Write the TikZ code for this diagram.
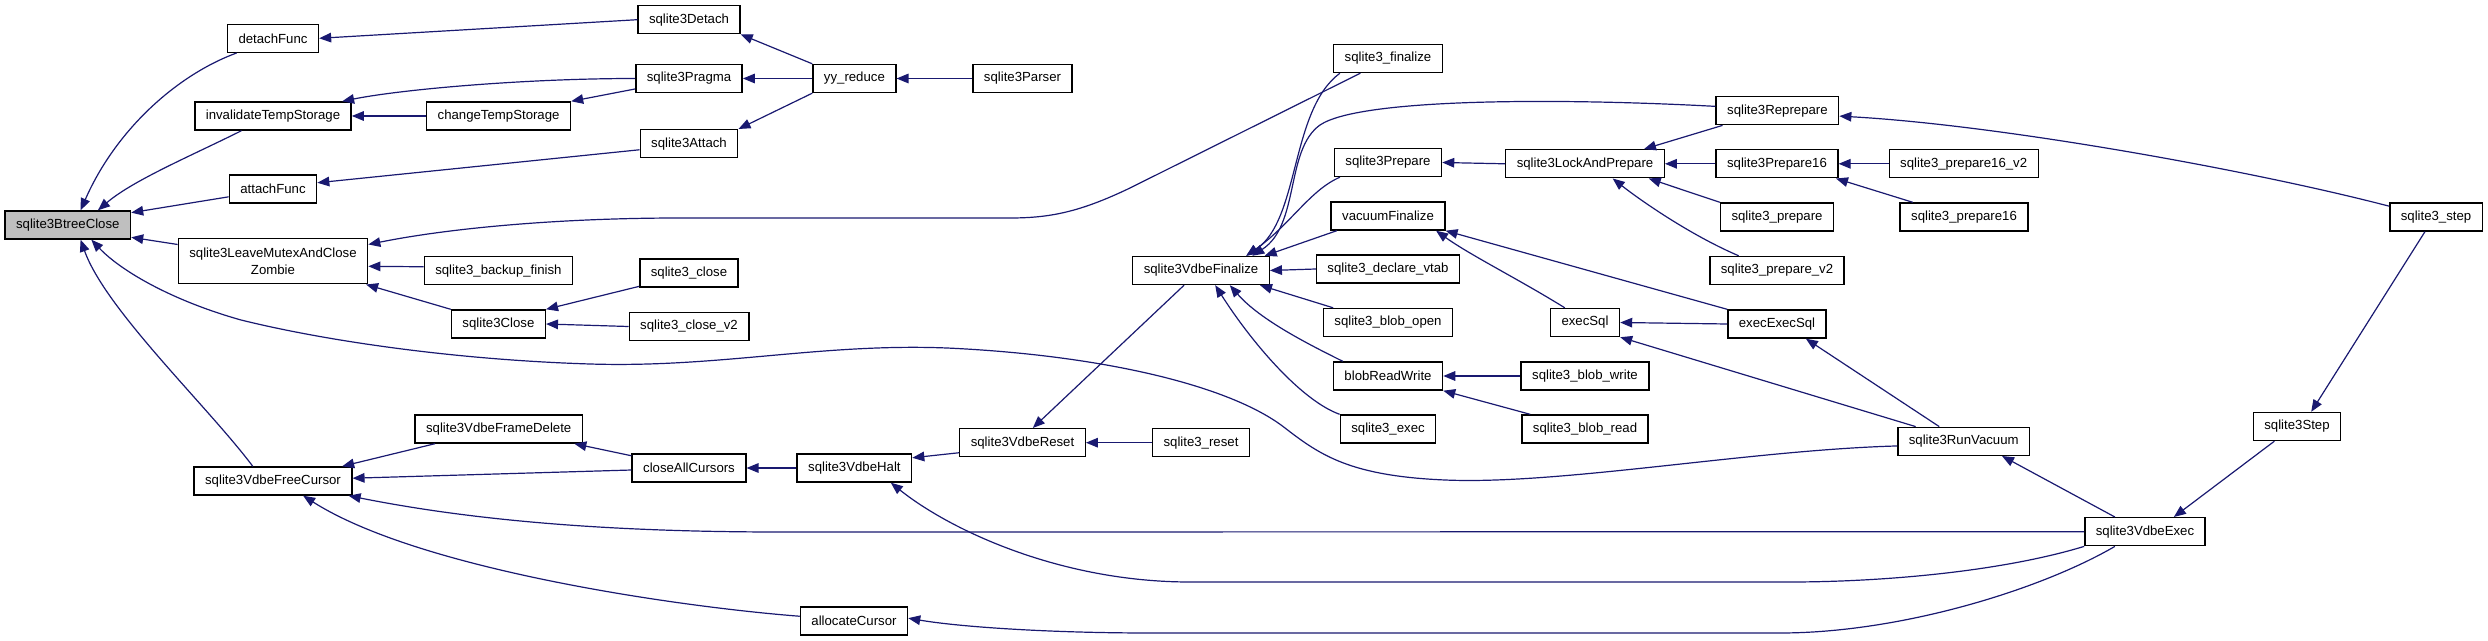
\documentclass[tikz,border=0pt]{standalone}
\usepackage{fontspec}
\setmainfont{Liberation Sans}
\usetikzlibrary{arrows.meta}
\definecolor{edgeblue}{HTML}{191970}

\begin{document}
\begin{tikzpicture}[x=0.5pt, y=-0.5pt, >={Triangle[length=6pt, width=4.8pt]}, font=\fontsize{6.6}{8.3}\selectfont,
		fn/.style={draw, rectangle, fill=white, line width=0.7pt, inner xsep=5.5pt, inner ysep=0pt, minimum height=14pt},
		rootfn/.style={fn, fill=black!25},
		call/.style={->, draw=edgeblue, line width=0.6pt}]
				\useasboundingbox (0,0) rectangle (2488,641);
				
				\node[rootfn] (btreeClose) at (67.8, 225) {sqlite3BtreeClose};
				
				\node[fn] (detachFunc) at (273, 38.3) {detachFunc};
				\node[fn] (invalidateTemp) at (273, 116) {invalidateTempStorage};
				\node[fn] (attachFunc) at (273, 189) {attachFunc};
				\node[fn, align=center, minimum height=22.5pt] (leaveMutex) at (273, 261.3) {sqlite3LeaveMutexAndClose\\Zombie};
				\node[fn] (freeCursor) at (273, 481) {sqlite3VdbeFreeCursor};
				
				\node[fn] (changeTemp) at (498.6, 116) {changeTempStorage};
				\node[fn] (backupFinish) at (498.4, 270.7) {sqlite3\_backup\_finish};
				\node[fn] (closeInt) at (498.4, 324) {sqlite3Close};
				\node[fn] (frameDelete) at (498.7, 429) {sqlite3VdbeFrameDelete};
				
				\node[fn] (detach) at (689, 19.7) {sqlite3Detach};
				\node[fn] (pragma) at (689, 78.5) {sqlite3Pragma};
				\node[fn] (attach) at (689, 143.7) {sqlite3Attach};
				\node[fn] (closeApi) at (689, 273) {sqlite3\_close};
				\node[fn] (closeV2) at (689, 326.5) {sqlite3\_close\_v2};
				\node[fn] (closeAll) at (689, 468) {closeAllCursors};
				
				\node[fn] (yyReduce) at (854.4, 78.5) {yy\_reduce};
				\node[fn] (vdbeHalt) at (854.4, 468) {sqlite3VdbeHalt};
				\node[fn] (allocCursor) at (854, 621) {allocateCursor};
				
				\node[fn] (parser) at (1022.5, 78.5) {sqlite3Parser};
				\node[fn] (vdbeReset) at (1022.5, 442.7) {sqlite3VdbeReset};
				
				\node[fn] (vdbeFinalize) at (1201, 270.5) {sqlite3VdbeFinalize};
				\node[fn] (resetApi) at (1201, 442.7) {sqlite3\_reset};
				
				\node[fn] (finalizeApi) at (1388, 58.5) {sqlite3\_finalize};
				\node[fn] (prepareInt) at (1388, 162.5) {sqlite3Prepare};
				\node[fn] (vacuumFinalize) at (1388, 216) {vacuumFinalize};
				\node[fn] (declareVtab) at (1388, 269) {sqlite3\_declare\_vtab};
				\node[fn] (blobOpen) at (1388, 322.5) {sqlite3\_blob\_open};
				\node[fn] (blobRW) at (1388, 376) {blobReadWrite};
				\node[fn] (execApi) at (1388, 429) {sqlite3\_exec};
				
				\node[fn] (lockPrepare) at (1585, 163.8) {sqlite3LockAndPrepare};
				\node[fn] (execSql) at (1585, 322.5) {execSql};
				\node[fn] (blobWrite) at (1585, 376) {sqlite3\_blob\_write};
				\node[fn] (blobRead) at (1585, 429) {sqlite3\_blob\_read};
				
				\node[fn] (reprepare) at (1777.4, 110.7) {sqlite3Reprepare};
				\node[fn] (prepare16) at (1777, 163.8) {sqlite3Prepare16};
				\node[fn] (prepareApi) at (1777, 217) {sqlite3\_prepare};
				\node[fn] (prepareV2) at (1777, 270.5) {sqlite3\_prepare\_v2};
				\node[fn] (execExecSql) at (1777, 324) {execExecSql};
				
				\node[fn] (prepare16v2) at (1963.7, 163.8) {sqlite3\_prepare16\_v2};
				\node[fn] (prepare16Api) at (1964, 217) {sqlite3\_prepare16};
				\node[fn] (runVacuum) at (1963.7, 441.3) {sqlite3RunVacuum};
				
				\node[fn] (vdbeExec) at (2145, 531.7) {sqlite3VdbeExec};
				\node[fn] (stepInt) at (2297, 426.5) {sqlite3Step};
				\node[fn] (stepApi) at (2436, 217) {sqlite3\_step};
				
				\draw[call] (detachFunc.202) .. controls +(-60,22) and +(35,-80) .. (btreeClose.49);
				\draw[call] (invalidateTemp.205) .. controls +(-50,25) and +(35,-30) .. (btreeClose.26);
				\draw[call] (attachFunc.190) -- (btreeClose.11);
				\draw[call] (leaveMutex.170) -- (btreeClose.-11);
				\draw[call] (freeCursor.144) .. controls +(-45,-60) and +(25,70) .. (btreeClose.-49);
				\draw[call] (runVacuum.184) .. controls (1750,450) and (1560,485) .. (1445,480) .. controls (1350,476) and (1320,455) .. (1285,428) .. controls (1230,385) and (1100,355) .. (947,348) .. controls (820,343) and (720,368) .. (590,364) .. controls (460,360) and (330,342) .. (241,320) .. controls (170,300) and (120,270) .. (btreeClose.-32);
				
				\draw[call] (detach.west) -- (detachFunc.east);
				\draw[call] (pragma.west) .. controls +(-110,0) and +(60,-12) .. (invalidateTemp.12);
				\draw[call] (changeTemp.west) -- (invalidateTemp.east);
				\draw[call] (attach.187) -- (attachFunc.8);
				\draw[call] (finalizeApi.208) -- (1130,188) .. controls (1080,212) and (1050,218) .. (1010,218) -- (680,218) .. controls (560,218) and (450,228) .. (leaveMutex.10);
				\draw[call] (backupFinish.177) -- (leaveMutex.-3);
				\draw[call] (closeInt.north west) -- (leaveMutex.-14);
				\draw[call] (frameDelete.193) -- (freeCursor.12);
				\draw[call] (closeAll.182) -- (freeCursor.2);
				\draw[call] (vdbeExec.west) -- (780,532) .. controls (620,532) and (480,522) .. (freeCursor.-11);
				\draw[call] (allocCursor.175) .. controls (680,607) and (420,570) .. (freeCursor.-26);
				
				\draw[call] (pragma.191) -- (changeTemp.north east);
				\draw[call] (closeApi.195) -- (closeInt.north east);
				\draw[call] (closeV2.west) -- (closeInt.east);
				\draw[call] (closeAll.168) -- (frameDelete.-11);
				
				\draw[call] (yyReduce.north west) -- (detach.south east);
				\draw[call] (yyReduce.west) -- (pragma.east);
				\draw[call] (yyReduce.south west) -- (attach.north east);
				\draw[call] (vdbeHalt.west) -- (closeAll.east);
				\draw[call] (parser.west) -- (yyReduce.east);
				\draw[call] (vdbeReset.189) -- (vdbeHalt.10);
				\draw[call] (vdbeExec.south west) .. controls (2000,572) and (1880,582) .. (1790,582) -- (1190,582) .. controls (1060,582) and (950,530) .. (vdbeHalt.-22);
				\draw[call] (vdbeExec.206) .. controls (2040,590) and (1900,633) .. (1780,633) -- (1150,633) .. controls (1050,633) and (960,627) .. (allocCursor.3);
				
				\draw[call] (resetApi.west) -- (vdbeReset.east);
				\draw[call] (vdbeFinalize.221) -- (vdbeReset.55);
				
				\draw[call] (finalizeApi.197) .. controls (1290,110) and (1300,220) .. (vdbeFinalize.18);
				\draw[call] (reprepare.176) .. controls (1560,98) and (1360,98) .. (1320,125) .. controls (1285,150) and (1300,225) .. (vdbeFinalize.16);
				\draw[call] (prepareInt.197) .. controls (1310,190) and (1290,225) .. (vdbeFinalize.18);
				\draw[call] (vacuumFinalize.196) -- (vdbeFinalize.13);
				\draw[call] (declareVtab.west) -- (vdbeFinalize.east);
				\draw[call] (blobOpen.165) -- (vdbeFinalize.-14);
				\draw[call] (blobRW.162) .. controls (1310,345) and (1260,320) .. (vdbeFinalize.-27);
				\draw[call] (execApi.north west) .. controls (1300,400) and (1250,340) .. (vdbeFinalize.-46);
				
				\draw[call] (lockPrepare.west) -- (prepareInt.east);
				\draw[call] (execExecSql.north west) -- (vacuumFinalize.south east);
				\draw[call] (execSql.144) .. controls (1520,280) and (1470,255) .. (vacuumFinalize.-17);
				\draw[call] (blobWrite.west) -- (blobRW.east);
				\draw[call] (blobRead.165) -- (blobRW.south east);
				
				\draw[call] (reprepare.195) -- (lockPrepare.14);
				\draw[call] (prepare16.west) -- (lockPrepare.east);
				\draw[call] (prepareApi.north west) -- (lockPrepare.-13);
				\draw[call] (prepareV2.159) .. controls (1690,235) and (1640,200) .. (lockPrepare.-28);
				\draw[call] (execExecSql.west) -- (execSql.east);
				\draw[call] (runVacuum.163) -- (execSql.south east);
				
				\draw[call] (prepare16v2.west) -- (prepare16.east);
				\draw[call] (prepare16Api.164) -- (prepare16.-14);
				\draw[call] (runVacuum.149) -- (execExecSql.-27);
				\draw[call] (stepApi.167) .. controls (2250,170) and (2000,125) .. (reprepare.-5);
				
				\draw[call] (vdbeExec.154) -- (runVacuum.-21);
				\draw[call] (stepInt.213) -- (vdbeExec.27);
				\draw[call] (stepApi.-127) -- (stepInt.46);
			\end{tikzpicture}
\end{document}
